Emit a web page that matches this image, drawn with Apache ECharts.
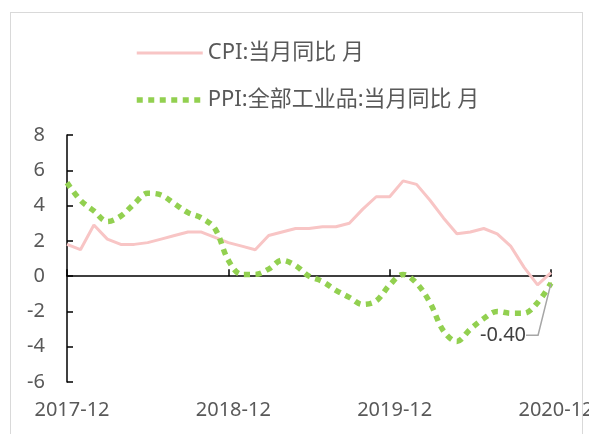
<!DOCTYPE html>
<html>
<head>
<meta charset="utf-8">
<script src="https://cdn.jsdelivr.net/npm/echarts@6/dist/echarts.min.js"></script>
<style>
  html, body { margin: 0; padding: 0; background: #fff; }
  #wrap { position: relative; width: 589px; height: 434px; overflow: hidden; }
  #frame { position: absolute; left: 10px; top: 12px; width: 573px; height: 480px; border: 1px solid #D9D9D9; box-sizing: border-box; }
  #chart { position: absolute; left: 0; top: 0; width: 589px; height: 434px; }
</style>
</head>
<body>
<div id="wrap">
  <div id="frame"></div>
  <div id="chart"></div>
</div>
<script>
const categories = [
  '2017-12',
  '2018-01','2018-02','2018-03','2018-04','2018-05','2018-06','2018-07','2018-08','2018-09','2018-10','2018-11','2018-12',
  '2019-01','2019-02','2019-03','2019-04','2019-05','2019-06','2019-07','2019-08','2019-09','2019-10','2019-11','2019-12',
  '2020-01','2020-02','2020-03','2020-04','2020-05','2020-06','2020-07','2020-08','2020-09','2020-10','2020-11','2020-12'
];
const cpiName = 'CPI:当月同比 月';
const ppiName = 'PPI:全部工业品:当月同比 月';
const cpiValues = [
  1.8,
  1.5, 2.9, 2.1, 1.8, 1.8, 1.9, 2.1, 2.3, 2.5, 2.5, 2.2, 1.9,
  1.7, 1.5, 2.3, 2.5, 2.7, 2.7, 2.8, 2.8, 3.0, 3.8, 4.5, 4.5,
  5.4, 5.2, 4.3, 3.3, 2.4, 2.5, 2.7, 2.4, 1.7, 0.5, -0.5, 0.2
];
const ppiValues = [
  5.3,
  4.3, 3.7, 3.1, 3.4, 4.1, 4.7, 4.6, 4.1, 3.6, 3.3, 2.7, 0.9,
  0.1, 0.1, 0.4, 0.9, 0.6, 0.0, -0.3, -0.8, -1.2, -1.6, -1.4, -0.5,
  0.1, -0.4, -1.5, -3.1, -3.7, -3.0, -2.4, -2.0, -2.1, -2.1, -1.5, -0.4
];
const yMin = -6, yMax = 8, yStep = 2;

const FONT = "'Noto Sans', 'Noto Sans CJK SC', sans-serif";
const CPI_COLOR = '#F8C5C5';
const PPI_COLOR = '#92D050';
const cpiLine = { color: CPI_COLOR, width: 3 };
const ppiLine = { color: PPI_COLOR, width: 5.5, type: [6, 5.5] };

const lastIdx = ppiValues.length - 1;
const ppiData = ppiValues.map((v, i) => i === lastIdx ? {
  value: v,
  symbol: 'circle',
  symbolSize: 2,
  label: {
    show: true,
    position: 'top',
    distance: 5,
    formatter: p => Number(p.value).toFixed(2),
    fontSize: 20,
    fontFamily: FONT,
    color: '#404040'
  },
  labelLine: { show: true, length2: 12, lineStyle: { color: '#A6A6A6', width: 1.5 } }
} : v);

const chart = echarts.init(document.getElementById('chart'), null, { renderer: 'canvas' });
chart.setOption({
  animation: false,
  backgroundColor: 'transparent',
  textStyle: { fontFamily: FONT },
  grid: { left: 67, right: 38, top: 135, bottom: 52, containLabel: false, outerBoundsMode: 'none' },
  legend: {
    orient: 'vertical',
    left: 129,
    top: 37,
    itemWidth: 66,
    itemHeight: 14,
    itemGap: 25,
    itemStyle: { opacity: 0 },
    textStyle: { fontSize: 22, color: '#595959', fontFamily: FONT },
    data: [
      { name: cpiName, lineStyle: cpiLine, itemStyle: { opacity: 0 } },
      { name: ppiName, lineStyle: ppiLine, itemStyle: { opacity: 0 } }
    ]
  },
  xAxis: [
    {
      type: 'category',
      data: categories,
      boundaryGap: false,
      axisLine: { onZero: true, lineStyle: { color: '#000', width: 1.5 } },
      axisTick: { show: true, inside: true, length: 7, interval: 11, lineStyle: { color: '#000', width: 1.5 } },
      axisLabel: { show: false }
    },
    {
      type: 'category',
      data: categories,
      boundaryGap: false,
      position: 'bottom',
      axisLine: { show: false, onZero: false },
      axisTick: { show: false },
      axisLabel: { interval: 11, fontSize: 20, color: '#595959', margin: 18, padding: [0, 0, 0, 10], fontFamily: FONT }
    }
  ],
  yAxis: {
    type: 'value',
    min: yMin,
    max: yMax,
    interval: yStep,
    splitLine: { show: false },
    axisLine: { show: true, onZero: false, lineStyle: { color: '#000', width: 1.5 } },
    axisTick: { show: true, inside: true, length: 6, lineStyle: { color: '#000', width: 1.5 } },
    axisLabel: { fontSize: 20, color: '#595959', margin: 22, fontFamily: FONT }
  },
  series: [
    {
      name: cpiName,
      type: 'line',
      xAxisIndex: 0,
      data: cpiValues,
      symbol: 'none',
      smooth: false,
      lineStyle: cpiLine,
      itemStyle: { color: CPI_COLOR }
    },
    {
      name: ppiName,
      type: 'line',
      xAxisIndex: 0,
      data: ppiData,
      symbol: 'none',
      showAllSymbol: true,
      smooth: 0.35,
      lineStyle: ppiLine,
      itemStyle: { color: PPI_COLOR },
      labelLayout: { dx: -48, dy: 68 }
    }
  ]
});
</script>
</body>
</html>
